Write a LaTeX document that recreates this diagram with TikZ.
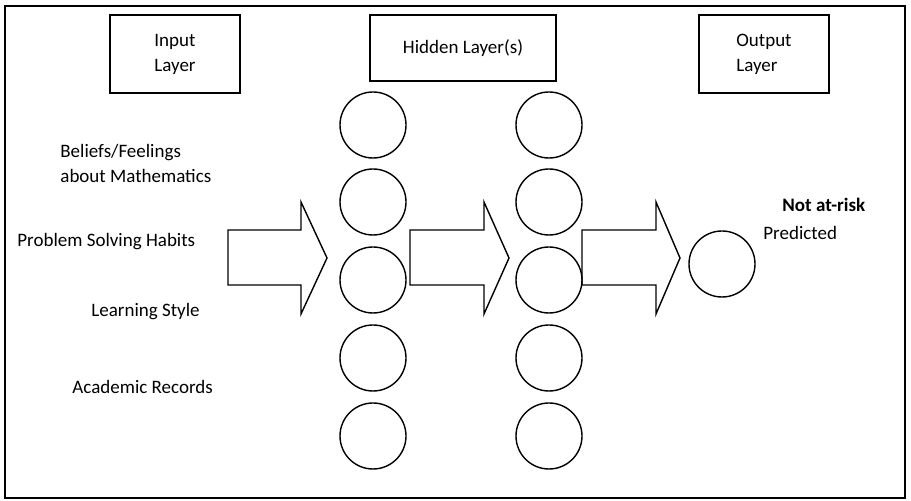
\documentclass[tikz,border=0pt]{standalone}
\usepackage{fontspec}
\setmainfont{Carlito}
\begin{document}
\begin{tikzpicture}[x=0.5pt,y=-0.5pt,
  font=\fontsize{9.5}{12.5}\selectfont,
  layerbox/.style={draw,line width=0.7pt,minimum width=#1,align=left,inner sep=0pt},
  neuron/.style={draw,circle,line width=0.7pt,minimum size=33pt,inner sep=0pt},
  factor/.style={anchor=west,align=left,inner sep=0pt},
  blockarrow/.style={draw,line width=0.7pt,line join=miter}]
  \useasboundingbox (0,0) rectangle (911,501);
  % Frame
  \draw[line width=0.9pt] (5,6) rectangle (905,498);

  % Layer titles
  \node[layerbox=65pt,minimum height=39pt] (inbox) at (175,54) {Input\\Layer};
  \node[layerbox=93pt,minimum height=33pt] (hidbox) at (463,48) {Hidden Layer(s)};
  \node[layerbox=65pt,minimum height=39pt] (outbox) at (764,54) {Output\\Layer};

  % Input factors
  \node[factor] (beliefs) at (60,163) {Beliefs/Feelings\\about Mathematics};
  \node[factor] (habits) at (17,242) {Problem Solving Habits};
  \node[factor] (style) at (91,312) {Learning Style};
  \node[factor] (records) at (72,387) {Academic Records};

  % Hidden neurons
  \foreach \col/\x in {A/373,B/549} {
    \foreach \row/\y in {1/125,2/202,3/280,4/358,5/436} {
      \node[neuron] (h\col\row) at (\x,\y) {};
    }
  }

  % Output neuron
  \node[neuron] (out) at (722,264) {};
  \node[factor,font=\fontsize{9.5}{12.5}\selectfont\bfseries] (risk) at (782,205) {Not at-risk};
  \node[factor] (pred) at (763,233) {Predicted};

  % Block arrows
  \foreach \a/\b/\c in {228/301/327,410/484/509,582/656/680} {
    \draw[blockarrow] (\a,230) -- (\b,230) -- (\b,202) -- (\c,258)
      -- (\b,314) -- (\b,285) -- (\a,285) -- cycle;
  }
\end{tikzpicture}
\end{document}
